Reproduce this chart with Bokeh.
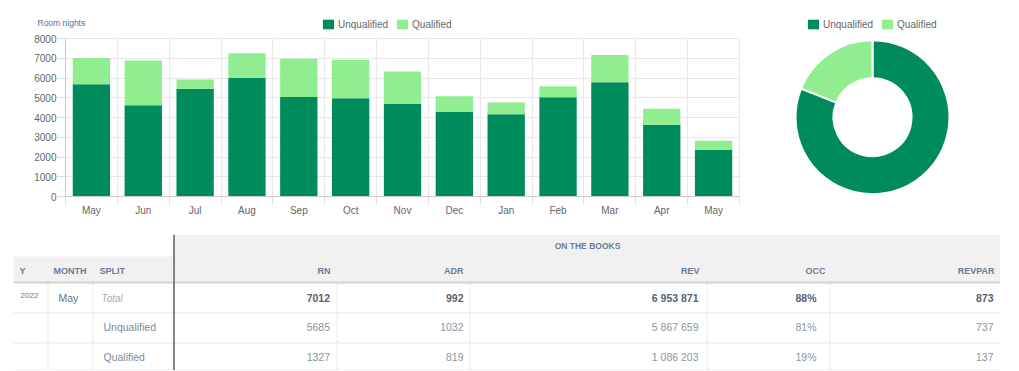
import math
from bokeh.plotting import figure
from bokeh.models import ColumnDataSource, Range1d, FixedTicker, Legend, LegendItem
from bokeh.layouts import column, row
from bokeh.core.properties import value
from bokeh.embed import file_html
from bokeh.resources import INLINE

# ---------------- data ----------------
months = ["May", "Jun", "Jul", "Aug", "Sep", "Oct", "Nov", "Dec", "Jan", "Feb", "Mar", "Apr", "May"]
unqualified = [5685, 4620, 5460, 6000, 5040, 4980, 4680, 4280, 4170, 5030, 5780, 3630, 2360]
qualified = [1327, 2270, 470, 1250, 1930, 1950, 1650, 800, 590, 550, 1380, 810, 460]
series_names = ["Unqualified", "Qualified"]
y_ticks = [0, 1000, 2000, 3000, 4000, 5000, 6000, 7000, 8000]
y_title = "Room nights"

donut_labels = ["Unqualified", "Qualified"]
donut_values = [5685, 1327]

table_year = "2022"
table_month = "May"
split_labels = ["Total", "Unqualified", "Qualified"]
group_title = "ON THE BOOKS"
left_headers = ["Y", "MONTH", "SPLIT"]
metric_names = ["RN", "ADR", "REV", "OCC", "REVPAR"]
rn = [7012, 5685, 1327]
adr = [992, 1032, 819]
rev = [6953871, 5867659, 1086203]
occ = [88, 81, 19]
revpar = [873, 737, 137]

# ---------------- styles ----------------
FONT = "Liberation Sans"
DARK = "#008c5a"
LIGHT = "#90ee90"
COLORS = [DARK, LIGHT]
TICK_COLOR = "#666666"
GRID = "#e8e8e8"
STRIP_H = 32
NAN = float("nan")


def plain(fig):
    fig.grid.visible = False
    fig.outline_line_color = None
    fig.background_fill_color = "white"
    fig.border_fill_color = "white"


def make_legend(items, x, y):
    return Legend(items=items, location=(x, y), orientation="horizontal",
                  glyph_width=14, glyph_height=12, label_standoff=3, spacing=7,
                  padding=0, margin=0, label_height=12, border_line_color=None,
                  background_fill_alpha=0, label_text_font=FONT, label_text_font_size="10px",
                  label_text_color=TICK_COLOR, label_text_baseline="middle")


# ---------------- header strip (axis title + legends) ----------------
hs = figure(width=1000, height=STRIP_H, x_range=Range1d(0, 1000), y_range=Range1d(STRIP_H, 0),
            output_backend="svg", toolbar_location=None, min_border=0,
            x_axis_location=None, y_axis_location=None)
plain(hs)
hs.text(x=[37], y=[22], text=[y_title], text_font=value(FONT), text_font_size="8.5px",
        text_color="#5c6f96", text_baseline="middle", text_align="left")
bar_items = []
for name, c in zip(series_names, COLORS):
    r = hs.quad(left=[NAN], right=[NAN], top=[NAN], bottom=[NAN], fill_color=c, line_color=None)
    bar_items.append(LegendItem(label=name, renderers=[r]))
donut_items = []
for name, c in zip(donut_labels, COLORS):
    r = hs.quad(left=[NAN], right=[NAN], top=[NAN], bottom=[NAN], fill_color=c, line_color=None)
    donut_items.append(LegendItem(label=name, renderers=[r]))
hs.add_layout(make_legend(bar_items, 321, 2), "center")
hs.add_layout(make_legend(donut_items, 806, 2), "center")

# ---------------- bar chart ----------------
xs = list(range(len(months)))
bounds = [i - 0.5 for i in range(len(months) + 1)]
src = ColumnDataSource(dict(x=xs, Unqualified=unqualified, Qualified=qualified))

p = figure(width=760, height=234 - STRIP_H, x_range=Range1d(-0.5, len(months) - 0.5), y_range=Range1d(0, 8000),
           output_backend="svg", toolbar_location=None,
           min_border_left=65, min_border_right=21, min_border_top=38 - STRIP_H, min_border_bottom=38)
p.vbar_stack(series_names, x="x", width=0.72, fill_color=COLORS, line_color=None, source=src)

p.xaxis.ticker = FixedTicker(ticks=xs, minor_ticks=bounds)
p.xaxis.major_label_overrides = {i: m for i, m in enumerate(months)}
p.yaxis.ticker = FixedTicker(ticks=y_ticks)
p.xgrid.ticker = FixedTicker(ticks=bounds)
p.ygrid.ticker = FixedTicker(ticks=y_ticks)
for ax in (p.xaxis[0], p.yaxis[0]):
    ax.axis_line_color = "#c9c9c9"
    ax.major_label_text_font = FONT
    ax.major_label_text_font_size = "10px"
    ax.major_label_text_color = TICK_COLOR
p.xaxis.major_tick_out = 0
p.xaxis.major_tick_in = 0
p.xaxis.minor_tick_out = 8
p.xaxis.minor_tick_in = 0
p.xaxis.minor_tick_line_color = "#dcdcdc"
p.xaxis.major_label_standoff = 0
p.yaxis.major_tick_out = 8
p.yaxis.major_tick_in = 0
p.yaxis.major_tick_line_color = "#dcdcdc"
p.yaxis.minor_tick_line_color = None
p.yaxis.major_label_standoff = 1
p.grid.grid_line_color = GRID
p.outline_line_color = GRID
p.background_fill_color = "white"
p.border_fill_color = "white"

# ---------------- donut ----------------
DW = 240
DH = 234 - STRIP_H
total = sum(donut_values)
starts, ends = [], []
acc = 0.0
for v in donut_values:
    starts.append(math.pi / 2 - 2 * math.pi * acc / total)
    acc += v
    ends.append(math.pi / 2 - 2 * math.pi * acc / total)
dsrc = ColumnDataSource(dict(label=donut_labels, value=donut_values, start=starts, end=ends, color=COLORS))
d = figure(width=DW, height=DH, x_range=Range1d(0, DW), y_range=Range1d(0, DH),
           output_backend="svg", toolbar_location=None, min_border=0,
           x_axis_location=None, y_axis_location=None)
plain(d)
d.annular_wedge(x=112, y=DH - (116.7 - STRIP_H), inner_radius=39, outer_radius=77,
                start_angle="start", end_angle="end", direction="clock",
                fill_color="color", line_color="white", line_width=2, source=dsrc)

# ---------------- table ----------------
TW, TH = 1000, 136
t = figure(width=TW, height=TH, x_range=Range1d(0, TW), y_range=Range1d(TH, 0),
           output_backend="svg", toolbar_location=None, min_border=0,
           x_axis_location=None, y_axis_location=None)
plain(t)

HEAD_BG = "#f1f1f1"
t.quad(left=[173, 13], right=[1000, 173], top=[0, 22], bottom=[47, 47], fill_color=HEAD_BG, line_color=None)
t.segment(x0=[13], y0=[48], x1=[1000], y1=[48], line_color="#cfcfcf", line_width=2)
row_lines = [78.5, 108.5, 135.5]
t.segment(x0=[13] * 3, y0=row_lines, x1=[1000] * 3, y1=row_lines, line_color="#e6e6e6", line_width=1)
col_sep = [47.5, 92.5, 336.5, 469.5, 706.5, 829.5]
t.segment(x0=col_sep, y0=[49] * 6, x1=col_sep, y1=[136] * 6, line_color="#d6d6d6", line_width=1,
          line_dash="2 2")
t.segment(x0=[1000.5], y0=[0], x1=[1000.5], y1=[136], line_color="#e2e2e2", line_width=1)
t.segment(x0=[173.5], y0=[0], x1=[173.5], y1=[136], line_color="#5f5f5f", line_width=1.5)

HEAD_TXT = "#6d7a96"
t.text(x=[587], y=[11.5], text=[group_title], text_font=value(FONT), text_font_size="8.5px",
       text_font_style="bold", text_color=HEAD_TXT, text_align="center", text_baseline="middle")
t.text(x=[19, 53, 99], y=[36] * 3, text=left_headers, text_font=value(FONT), text_font_size="9px",
       text_font_style="bold", text_color=HEAD_TXT, text_align="left", text_baseline="middle")
head_right = [330, 463, 699, 825, 994]
t.text(x=head_right, y=[36] * 5, text=metric_names, text_font=value(FONT), text_font_size="9px",
       text_font_style="bold", text_color=HEAD_TXT, text_align="right", text_baseline="middle")

row_y = [63.7, 92.7, 122.5]
t.text(x=[20], y=[60.5], text=[table_year], text_font=value(FONT), text_font_size="8px",
       text_color="#6b7384", text_align="left", text_baseline="middle")
t.text(x=[58], y=[row_y[0]], text=[table_month], text_font=value(FONT), text_font_size="10.5px",
       text_color="#6b7384", text_align="left", text_baseline="middle")
t.text(x=[101], y=[row_y[0]], text=[split_labels[0]], text_font=value(FONT), text_font_size="10px",
       text_font_style="italic", text_color="#a3aaba", text_align="left", text_baseline="middle")
t.text(x=[103, 103], y=row_y[1:], text=split_labels[1:], text_font=value(FONT), text_font_size="10.5px",
       text_color="#7f8898", text_align="left", text_baseline="middle")


def fmt_space(n):
    return f"{n:,}".replace(",", " ")


cols = [
    [str(v) for v in rn],
    [str(v) for v in adr],
    [fmt_space(v) for v in rev],
    [f"{v}%" for v in occ],
    [str(v) for v in revpar],
]
val_right = [329.5, 463, 698, 816, 993]
for ci, colvals in enumerate(cols):
    t.text(x=[val_right[ci]], y=[row_y[0]], text=[colvals[0]], text_font=value(FONT),
           text_font_size="10.5px", text_font_style="bold", text_color="#5a6170",
           text_align="right", text_baseline="middle")
    t.text(x=[val_right[ci]] * 2, y=row_y[1:], text=colvals[1:], text_font=value(FONT),
           text_font_size="10.5px", text_color="#8c94a3", text_align="right", text_baseline="middle")

layout = column(hs, row(column(p, spacing=0), column(d, spacing=0), spacing=0), t, spacing=0)
open("out.html", "w").write(file_html(layout, INLINE))
